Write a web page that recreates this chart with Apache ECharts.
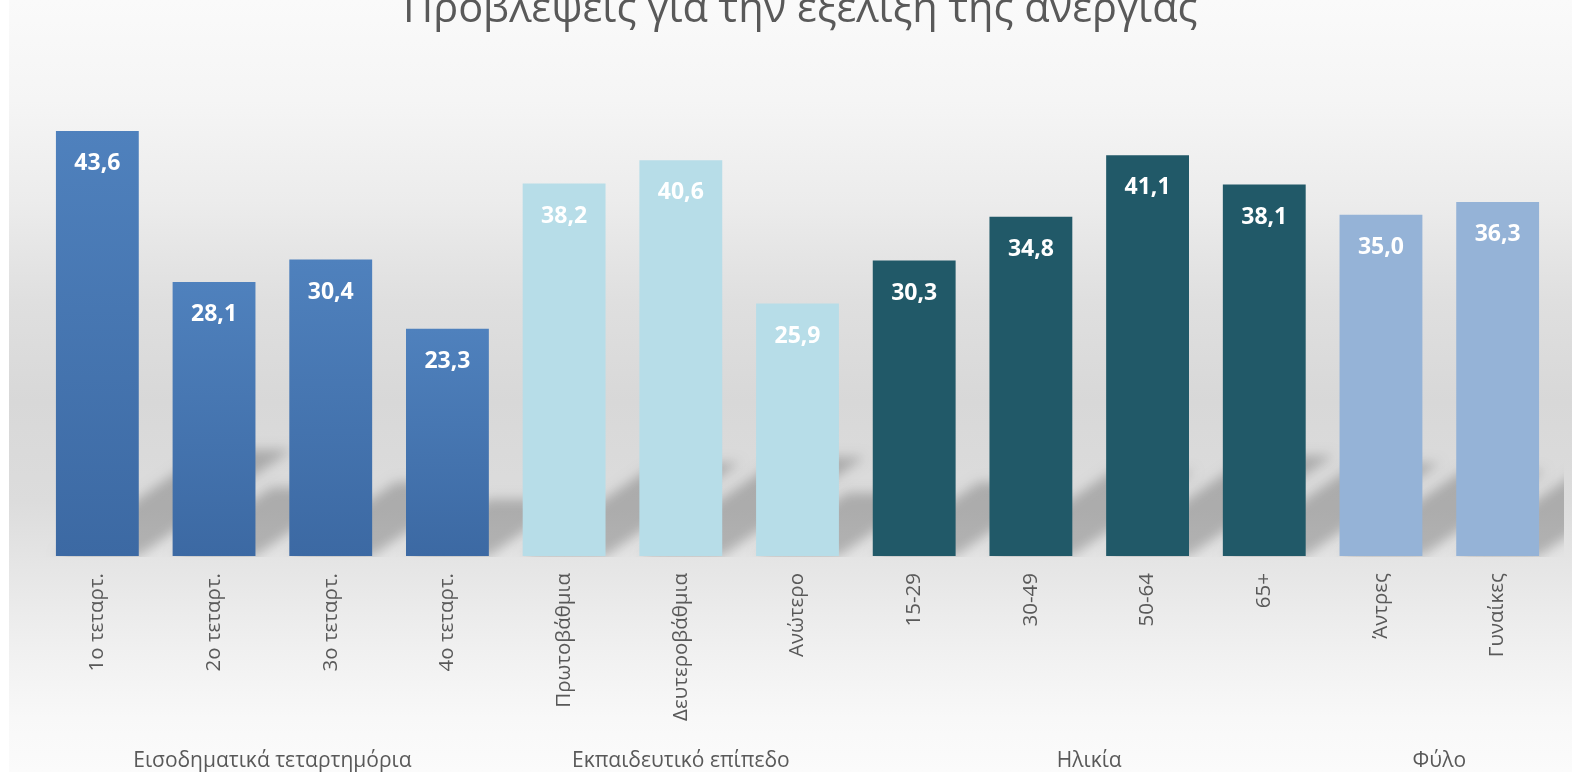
<!DOCTYPE html>
<html>
<head>
<meta charset="utf-8">
<script src="https://cdn.jsdelivr.net/npm/echarts@6/dist/echarts.min.js"></script>
<style>
html,body{margin:0;padding:0;background:#fff;}
#main{width:1572px;height:772px;}
</style>
</head>
<body>
<div id="main"></div>
<script>
const titleText = 'Προβλέψεις για την εξέλιξη της ανεργίας';
const categories = ['1ο τεταρτ.', '2ο τεταρτ.', '3ο τεταρτ.', '4ο τεταρτ.', 'Πρωτοβάθμια', 'Δευτεροβάθμια', 'Ανώτερο', '15-29', '30-49', '50-64', '65+', 'Άντρες', 'Γυναίκες'];
const values = [43.6, 28.1, 30.4, 23.3, 38.2, 40.6, 25.9, 30.3, 34.8, 41.1, 38.1, 35.0, 36.3];
const groupNames = ['Εισοδηματικά τεταρτημόρια', 'Εκπαιδευτικό επίπεδο', 'Ηλικία', 'Φύλο'];
const groupIndex = [0, 0, 0, 0, 1, 1, 1, 2, 2, 2, 2, 3, 3];
const groupCenters = [1.5, 5, 8.5, 11.5];

const groupColors = [
  new echarts.graphic.LinearGradient(0, 0, 0, 1, [{offset: 0, color: '#4f81bd'}, {offset: 1, color: '#3c69a3'}]),
  '#b7dde8',
  '#215968',
  '#95b3d7'
];

const BAR_GAP = 0.29;
const chart = echarts.init(document.getElementById('main'), null, {renderer: 'canvas'});

function renderShadow(params, api) {
  const idx = api.value(0);
  const v = api.value(1);
  const base = api.coord([idx, 0]);
  const top = api.coord([idx, v]);
  const w = api.size([1, 0])[0] * (1 - BAR_GAP);
  const h = base[1] - top[1];
  const dx = 0.36 * h, dy = 0.25 * h;
  const off = 4000;
  const x0 = base[0] - w / 2 - off, x1 = base[0] + w / 2 - off, y0 = base[1];
  const cs = params.coordSys;
  return {
    type: 'group',
    children: [{
      type: 'polygon',
      shape: {points: [[x0, y0], [x1, y0], [x1 + dx, y0 - dy], [x0 + dx, y0 - dy]]},
      style: {
        fill: '#000',
        shadowBlur: 12,
        shadowColor: 'rgba(0,0,0,0.22)',
        shadowOffsetX: off,
        shadowOffsetY: 0
      },
      silent: true
    }],
    clipPath: {
      type: 'rect',
      shape: {x: cs.x, y: cs.y, width: cs.width + 8, height: cs.height + 1}
    }
  };
}

const option = {
  animation: false,
  graphic: [{
    type: 'rect',
    silent: true,
    z: -10,
    shape: {x: 9, y: 0, width: 1563, height: 772},
    style: {
      fill: new echarts.graphic.LinearGradient(0, 0, 0, 1, [
        {offset: 0, color: '#fafafa'},
        {offset: 0.13, color: '#f5f5f5'},
        {offset: 0.26, color: '#ececec'},
        {offset: 0.39, color: '#dfdfdf'},
        {offset: 0.52, color: '#d8d8d8'},
        {offset: 0.65, color: '#dcdcdc'},
        {offset: 0.73, color: '#e5e5e5'},
        {offset: 0.84, color: '#f0f0f0'},
        {offset: 0.93, color: '#f8f8f8'},
        {offset: 1, color: '#fbfbfb'}
      ])
    }
  }],
  title: {
    text: titleText,
    left: 398,
    top: -16,
    textStyle: {fontFamily: 'Open Sans', fontWeight: 'normal', fontSize: 41.5, color: '#595959'}
  },
  grid: {left: 39, right: 16, top: 68.5, bottom: 216},
  xAxis: [{
    type: 'category',
    data: categories,
    axisLine: {show: false},
    axisTick: {show: false},
    axisLabel: {
      rotate: 90,
      margin: 17,
      fontFamily: 'Open Sans',
      fontSize: 20.5,
      color: '#595959'
    }
  }, {
    type: 'value',
    position: 'bottom',
    min: -0.5,
    max: 12.5,
    interval: 0.5,
    axisLine: {show: false},
    axisTick: {show: false},
    splitLine: {show: false},
    axisLabel: {
      margin: 194.5,
      fontFamily: 'Open Sans',
      fontSize: 21,
      color: '#595959',
      showMinLabel: true,
      showMaxLabel: true,
      formatter: function (v) {
        const i = groupCenters.findIndex(c => Math.abs(c - v) < 1e-6);
        return i >= 0 ? groupNames[i] : '';
      }
    }
  }],
  yAxis: {
    type: 'value',
    min: 0,
    max: 50,
    show: false
  },
  series: [{
    type: 'custom',
    z: 1,
    silent: true,
    renderItem: renderShadow,
    data: values.map((v, i) => [i, v])
  }, {
    type: 'bar',
    z: 2,
    barCategoryGap: (BAR_GAP * 100) + '%',
    data: values.map((v, i) => ({value: v, itemStyle: {color: groupColors[groupIndex[i]]}})),
    label: {
      show: true,
      position: 'insideTop',
      distance: 21,
      formatter: p => p.value.toFixed(1).replace('.', ','),
      fontFamily: 'Open Sans',
      fontWeight: 'bold',
      fontSize: 23,
      color: '#ffffff'
    }
  }]
};
chart.setOption(option);
</script>
</body>
</html>
